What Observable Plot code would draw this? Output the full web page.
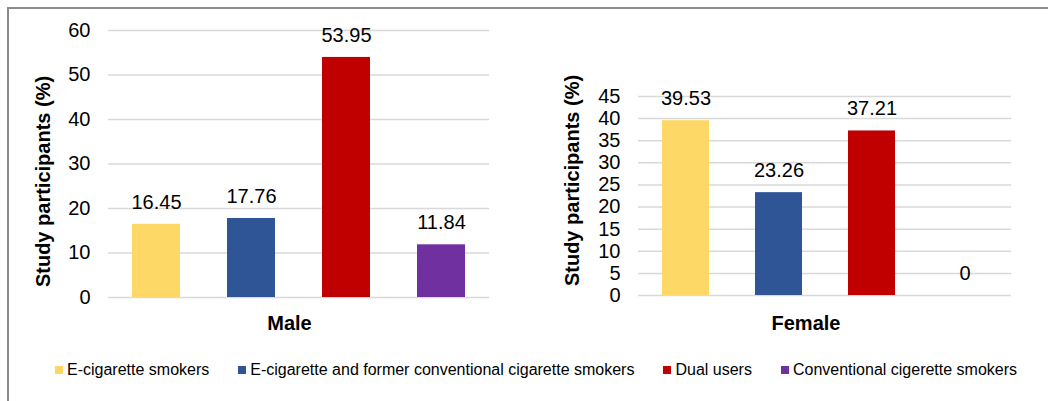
<!DOCTYPE html>
<html>
<head>
<meta charset="utf-8">
<script src="https://cdn.jsdelivr.net/npm/d3@7"></script>
<script src="https://cdn.jsdelivr.net/npm/@observablehq/plot@0.6"></script>
<style>
  html, body { margin: 0; padding: 0; background: #fff; }
  #chart {
    position: relative;
    width: 1048px;
    height: 401px;
    overflow: hidden;
    font-family: Arial, "Liberation Sans", sans-serif;
    background: #fff;
  }
  #chart .frame-top { position: absolute; left: 7px; top: 7px; right: 0; height: 2px; background: #8c8c8c; }
  #chart .frame-left { position: absolute; left: 7px; top: 7px; bottom: 0; width: 2px; background: #8c8c8c; }
  #chart .panel { position: absolute; top: 0; }
  #legend {
    position: absolute;
    left: 55px;
    top: 361px;
    display: flex;
    align-items: center;
    font-size: 16px;
    color: #000;
    white-space: nowrap;
  }
  #legend .item { display: flex; align-items: center; margin-right: 29px; }
  #legend .sw { width: 8px; height: 8px; margin-right: 4px; }
</style>
</head>
<body>
<div id="chart">
  <div class="frame-top"></div>
  <div class="frame-left"></div>
  <div id="legend"></div>
</div>
<script>
// Smoking groups and their shares of study participants, by sex
const categories = [
  "E-cigarette smokers",
  "E-cigarette and former conventional cigarette smokers",
  "Dual users",
  "Conventional cigerette smokers"
];
const maleValues = [16.45, 17.76, 53.95, 11.84];
const femaleValues = [39.53, 23.26, 37.21, 0];
const colors = ["#FDD866", "#2F5597", "#C00000", "#7030A0"];

const maleTicks = [0, 10, 20, 30, 40, 50, 60];
const femaleTicks = [0, 5, 10, 15, 20, 25, 30, 35, 40, 45];

const yTitle = "Study participants (%)";
const font = "Arial, 'Liberation Sans', sans-serif";

function panel({values, ticks, group, width, height, margins, titleOffset, groupOffset}) {
  const data = categories.map((c, i) => ({category: c, value: values[i]}));
  return Plot.plot({
    width, height,
    ...margins,
    style: {fontFamily: font, fontSize: "20px", color: "#000", background: "transparent"},
    x: {type: "band", domain: categories, paddingInner: 0.5, paddingOuter: 0.25, axis: null},
    y: {domain: [0, ticks[ticks.length - 1]], axis: null},
    color: {domain: categories, range: colors},
    marks: [
      Plot.gridY(ticks, {stroke: "#d9d9d9", strokeOpacity: 1, strokeWidth: 1.5}),
      Plot.axisY(ticks, {tickSize: 0, tickPadding: 18, fontSize: 20, fill: "#000", label: null}),
      Plot.barY(data, {x: "category", y: "value", fill: "category"}),
      Plot.text(data, {
        x: "category", y: "value", text: d => String(d.value),
        dy: -22, fontSize: 20, fill: "#000", lineAnchor: "middle"
      }),
      Plot.text([yTitle], {
        frameAnchor: "left", rotate: -90, textAnchor: "middle", lineAnchor: "middle",
        dx: titleOffset[0], dy: titleOffset[1], fontSize: 20, fontWeight: "bold", fill: "#000"
      }),
      Plot.text([group], {
        frameAnchor: "bottom", textAnchor: "middle", lineAnchor: "middle",
        dx: groupOffset[0], dy: groupOffset[1], fontSize: 20, fontWeight: "bold", fill: "#000"
      })
    ]
  });
}

const chart = document.getElementById("chart");

const male = panel({
  values: maleValues, ticks: maleTicks, group: "Male",
  width: 520, height: 340,
  margins: {marginLeft: 108, marginRight: 31, marginTop: 30, marginBottom: 43},
  titleOffset: [-65, 17.5], groupOffset: [-9.5, 26]
});
male.classList.add("panel");
male.style.left = "0px";
chart.appendChild(male);

const female = panel({
  values: femaleValues, ticks: femaleTicks, group: "Female",
  width: 528, height: 340,
  margins: {marginLeft: 118, marginRight: 37, marginTop: 96, marginBottom: 45},
  titleOffset: [-66, -15.5], groupOffset: [-19, 28]
});
female.classList.add("panel");
female.style.left = "520px";
chart.appendChild(female);

// Shared legend below both panels
const legend = document.getElementById("legend");
categories.forEach((c, i) => {
  const item = document.createElement("div");
  item.className = "item";
  const sw = document.createElement("span");
  sw.className = "sw";
  sw.style.background = colors[i];
  const label = document.createElement("span");
  label.textContent = c;
  item.appendChild(sw);
  item.appendChild(label);
  legend.appendChild(item);
});
</script>
</body>
</html>
